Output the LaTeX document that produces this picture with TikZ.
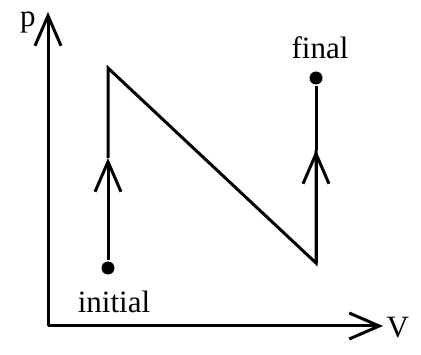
\documentclass[tikz,border=0pt]{standalone}
\usepackage{fontspec}
\setmainfont{Liberation Serif}
\usetikzlibrary{arrows.meta}

\begin{document}
\begin{tikzpicture}[x=1pt,y=1pt,line width=3pt,
    tip/.style={-{Straight Barb[length=30pt,width=26pt,line width=3pt]}},
    dot/.style={circle,fill,inner sep=0pt,minimum size=13pt},
    lbl/.style={font=\fontsize{31}{36}\selectfont,inner sep=1pt}]
    \useasboundingbox (0,0) rectangle (421,354);
    % axes
    \coordinate (o) at (48,28);
    \coordinate (ptop) at (48,342);
    \coordinate (vend) at (383,28);
    \draw[tip] (o) -- (ptop);
    \draw[tip] (o) -- (vend);
    \node[lbl,anchor=east] (plab) at (38,332) {p};
    \node[lbl,anchor=west] (vlab) at (384,26) {V};
    % path
    \node[dot] (init) at (108,86) {};
    \node[dot] (fin) at (316,276) {};
    \coordinate (a) at (108,286);
    \coordinate (b) at (316,91);
    \coordinate (m1) at (108,196);
    \coordinate (m2) at (316,204);
    \draw[tip] (init) -- (m1);
    \draw (m1) -- (a) -- (b) -- (m2);
    \draw[tip] (b) -- (m2);
    \draw (m2) -- (fin);
    \node[lbl,below=12pt] (initlab) at (init.south -| 114,0) {initial};
    \node[lbl,above=9pt] (finlab) at (fin.north -| 320,0) {final};
\end{tikzpicture}
\end{document}
